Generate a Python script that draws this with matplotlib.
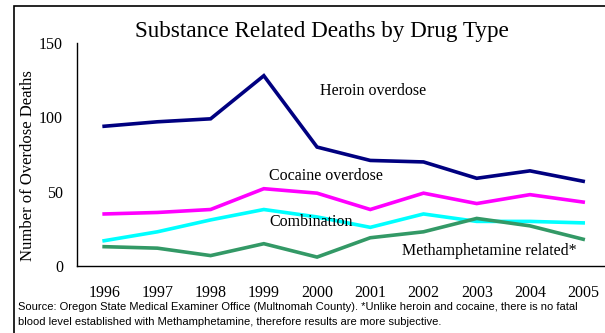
import matplotlib

matplotlib.use("Agg")
import matplotlib.pyplot as plt
from matplotlib.patches import Rectangle

years = [1996, 1997, 1998, 1999, 2000, 2001, 2002, 2003, 2004, 2005]
heroin = [94, 97, 99, 128, 80, 71, 70, 59, 64, 57]
cocaine = [35, 36, 38, 52, 49, 38, 49, 42, 48, 43]
combination = [17, 23, 31, 38, 33, 26, 35, 30, 30, 29]
meth = [13, 12, 7, 15, 6, 19, 23, 32, 27, 18]

SERIES = [
    (heroin, "#000080", "Heroin overdose", (2000.05, 118)),
    (cocaine, "#FF00FF", "Cocaine overdose", (1999.1, 60.5)),
    (combination, "#00FFFF", "Combination", (1999.1, 29.5)),
    (meth, "#339966", "Methamphetamine related*", (2001.6, 10)),
]

SERIF = ["Liberation Serif", "DejaVu Serif"]
SANS = ["Liberation Sans", "DejaVu Sans"]

fig = plt.figure(figsize=(6.05, 3.33), dpi=100)
W, H = 605, 333

# outer frame (right/bottom edges fall outside the picture)
fig.patches.append(Rectangle((14 / W, -0.1), 1.2, (H - 6) / H + 0.1,
                             transform=fig.transFigure, fill=False,
                             lw=1.2, ec="black"))

ax = fig.add_axes([77 / W, (H - 266) / H, (W - 77) / W, (266 - 43) / H])
for s, c, lab, (tx, ty) in SERIES:
    ax.plot(years, s, color=c, lw=2.6, solid_joinstyle="miter", zorder=3)
    ax.text(tx, ty, lab, fontsize=11.5, family=SERIF, va="center", ha="left")

ax.set_xlim(1995.49, 2005.41)
ax.set_ylim(0, 150)
ax.set_yticks([0, 50, 100, 150])
ax.set_xticks(years)
for sp in ("top", "right"):
    ax.spines[sp].set_visible(False)
ax.spines["left"].set_linewidth(1.0)
ax.spines["bottom"].set_linewidth(1.0)
ax.tick_params(length=0, labelsize=11.5, pad=10)
ax.tick_params(axis="x", pad=14)
for t in ax.get_xticklabels() + ax.get_yticklabels():
    t.set_family(SERIF)

fig.text(28 / W, 1 - 166 / H, "Number of Overdose Deaths", family=SERIF,
         fontsize=12, rotation=90, ha="center", va="center")

fig.text(322 / W, 1 - 31 / H, "Substance Related Deaths by Drug Type",
         family=SERIF, fontsize=16.7, ha="center", va="center")

fig.text(18 / W, 1 - 307 / H,
         "Source: Oregon State Medical Examiner Office (Multnomah County). "
         "*Unlike heroin and cocaine, there is no fatal",
         family=SANS, fontsize=8.05, ha="left", va="center")
fig.text(18 / W, 1 - 322 / H,
         "blood level established with Methamphetamine, therefore results are more subjective.",
         family=SANS, fontsize=8.05, ha="left", va="center")

fig.savefig("out.png", dpi=100)
